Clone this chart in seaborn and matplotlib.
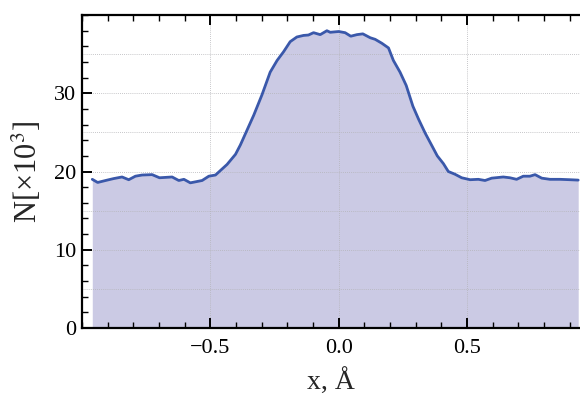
import numpy as np
import matplotlib
matplotlib.use("Agg")
import matplotlib.pyplot as plt
from matplotlib.ticker import MultipleLocator
import seaborn as sns

# density profile across the channel
x_pos = [-0.960, -0.939, -0.902, -0.876, -0.844, -0.818, -0.792, -0.766, -0.727,
         -0.698, -0.649, -0.623, -0.603, -0.578, -0.532, -0.506, -0.480, -0.435,
         -0.402, -0.383, -0.357, -0.331, -0.299, -0.267, -0.240, -0.215, -0.189,
         -0.163, -0.137, -0.118, -0.098, -0.072, -0.046, -0.033, 0.000, 0.025,
         0.047, 0.071, 0.094, 0.123, 0.142, 0.168, 0.194, 0.213, 0.239, 0.263,
         0.289, 0.311, 0.337, 0.363, 0.384, 0.408, 0.427, 0.453, 0.479, 0.512,
         0.544, 0.570, 0.596, 0.641, 0.667, 0.693, 0.719, 0.745, 0.765, 0.791,
         0.823, 0.862, 0.901, 0.933]
counts = [19.0, 18.6, 18.9, 19.1, 19.3, 18.95, 19.4, 19.55, 19.6,
          19.2, 19.3, 18.85, 19.0, 18.55, 18.85, 19.4, 19.55, 20.9,
          22.2, 23.4, 25.3, 27.2, 29.8, 32.7, 34.2, 35.3, 36.6,
          37.2, 37.4, 37.45, 37.75, 37.5, 38.0, 37.8, 37.9, 37.75,
          37.3, 37.5, 37.6, 37.1, 36.9, 36.4, 35.8, 34.2, 32.7, 31.0,
          28.35, 26.7, 24.9, 23.3, 22.0, 21.0, 20.0, 19.65, 19.2, 18.95,
          19.0, 18.85, 19.15, 19.3, 19.2, 19.0, 19.4, 19.4, 19.6, 19.15,
          19.0, 19.0, 18.95, 18.9]

x_ticks = [-0.5, 0.0, 0.5]
y_ticks = [0, 10, 20, 30]

sns.set_theme(style="ticks")
plt.rcParams['font.family'] = ['Liberation Serif', 'DejaVu Serif']
plt.rcParams['mathtext.fontset'] = 'stix'

fig = plt.figure(figsize=(5.8, 3.97), dpi=100)
ax = fig.add_axes([0.1414, 0.174, 0.8586, 0.788])

ax.fill_between(x_pos, counts, 0, color='#cbcae4', linewidth=0, zorder=1)
sns.lineplot(x=x_pos, y=counts, ax=ax, color='#3a58aa', linewidth=2.0, zorder=3)

ax.set_xlim(-1.0, 0.94)
ax.set_ylim(0, 40)
ax.set_xticks(x_ticks)
ax.set_xticklabels(['\u22120.5', '0.0', '0.5'])
ax.set_yticks(y_ticks)
ax.xaxis.set_minor_locator(MultipleLocator(0.1))
ax.yaxis.set_minor_locator(MultipleLocator(2))

# dotted grid
ax.set_axisbelow(False)
ax.grid(False)
for gx in x_ticks:
    ax.axvline(gx, color='#b4b4b8', linestyle=(0, (1, 1.5)), linewidth=0.6, zorder=2)
for gy in [5, 10, 15, 20, 25, 30, 35]:
    ax.axhline(gy, color='#b4b4b8', linestyle=(0, (1, 1.5)), linewidth=0.6, zorder=2)

ax.tick_params(which='both', direction='in', top=True, right=False, colors='black')
ax.tick_params(which='major', length=7, width=1.4, labelsize=16, pad=4)
ax.tick_params(which='minor', length=4, width=1.0)
ax.tick_params(axis='x', which='major', pad=8)
for side in ['left', 'bottom', 'top']:
    ax.spines[side].set_linewidth(1.6)
    ax.spines[side].set_color('black')
ax.spines['right'].set_visible(False)

ax.set_xlabel('x, \u00c5', fontsize=20, labelpad=8)
ax.set_ylabel('N[\u00d710$^3$]', fontsize=22, labelpad=7)

fig.savefig('out.png', dpi=100)
